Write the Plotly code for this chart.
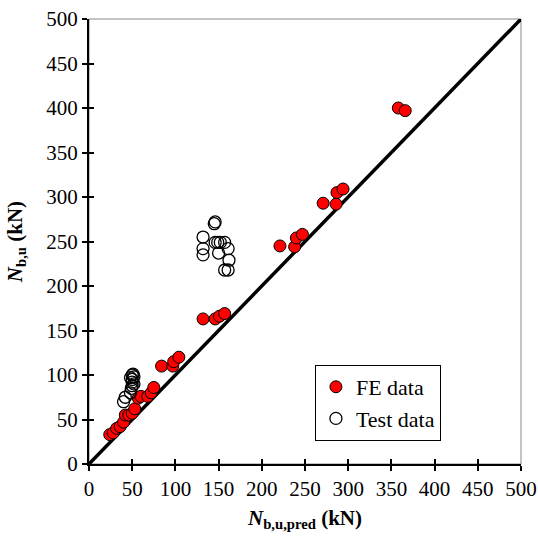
import plotly.graph_objects as go

fe_x = [24, 28, 32, 36, 40, 42, 46, 50, 53, 57, 60, 68, 72, 75, 84, 97, 98, 104,
        132, 146, 151, 157, 221, 238, 240, 247, 271, 286, 287, 294, 358, 366]
fe_y = [33, 35, 40, 42, 47, 55, 55, 57, 62, 74, 76, 76, 80, 86, 110, 110, 115, 120,
        163, 163, 166, 169, 245, 244, 254, 258, 293, 292, 305, 309, 400, 397]

test_x = [40, 42, 48, 49, 50, 50, 50, 52, 50, 51, 48, 52,
          145, 146, 132, 132, 132, 146, 149, 152, 157, 150, 161, 162, 157, 161]
test_y = [70, 75, 80, 85, 88, 92, 95, 98, 100, 101, 97, 90,
          270, 272, 255, 242, 235, 249, 249, 249, 249, 237, 242, 229, 218, 218]

line_x = [0, 500]
line_y = [0, 500]
ticks = [0, 50, 100, 150, 200, 250, 300, 350, 400, 450, 500]

FONT = "Liberation Serif"

fig = go.Figure()
fig.add_trace(go.Scatter(x=line_x, y=line_y, mode="lines",
                         line=dict(color="black", width=3.5), showlegend=False,
                         hoverinfo="skip"))
fig.add_trace(go.Scatter(x=fe_x, y=fe_y, mode="markers", name="FE data",
                         marker=dict(symbol="circle", size=12, color="#ff0000",
                                     line=dict(color="black", width=1))))
fig.add_trace(go.Scatter(x=test_x, y=test_y, mode="markers", name="Test data",
                         marker=dict(symbol="circle-open", size=12, color="black",
                                     line=dict(color="black", width=1.3))))
# helper trace so the overlaid tick-only axes are drawn
fig.add_trace(go.Scatter(x=line_x, y=line_y, xaxis="x2", yaxis="y2", mode="markers",
                         marker=dict(opacity=0), showlegend=False, hoverinfo="skip"))

axis_common = dict(range=[0, 500], tickvals=ticks, showgrid=False, zeroline=False,
                   showline=True, linecolor="black", linewidth=2,
                   tickcolor="black", tickwidth=2, ticklen=5, automargin=False,
                   ticklabeloverflow="allow",
                   tickfont=dict(family=FONT, size=21, color="black"))

fig.update_layout(
    width=538, height=540,
    margin=dict(l=89, r=17, t=19, b=76),
    paper_bgcolor="white", plot_bgcolor="white",
    font=dict(family=FONT, color="black"),
    xaxis=dict(**axis_common, ticks="outside",
               title=dict(text="<i><b>N</b></i><sub><b>b,u,pred</b></sub><b> (kN)</b>",
                          font=dict(family=FONT, size=21), standoff=10)),
    yaxis=dict(**axis_common, ticks="outside",
               title=dict(text="<i><b>N</b></i><sub><b>b,u</b></sub><b> (kN)</b>",
                          font=dict(family=FONT, size=21), standoff=18)),
    xaxis2=dict(**axis_common, ticks="inside", overlaying="x", anchor="y2",
                side="bottom", showticklabels=False),
    yaxis2=dict(**axis_common, ticks="inside", overlaying="y", anchor="x2",
                side="left", showticklabels=False),
    legend=dict(x=0.523, y=0.2225, xanchor="left", yanchor="top",
                bgcolor="white", bordercolor="black", borderwidth=1,
                font=dict(family=FONT, size=22, color="black"),
                itemwidth=30),
    shapes=[dict(type="rect", xref="paper", yref="paper", x0=0, y0=0, x1=1, y1=1,
                 line=dict(color="#888888", width=1), layer="below")],
)

fig.write_html("out.html", config={"displayModeBar": False},
               post_script="document.body.style.margin='0';"
                           "document.body.style.overflow='hidden';")
